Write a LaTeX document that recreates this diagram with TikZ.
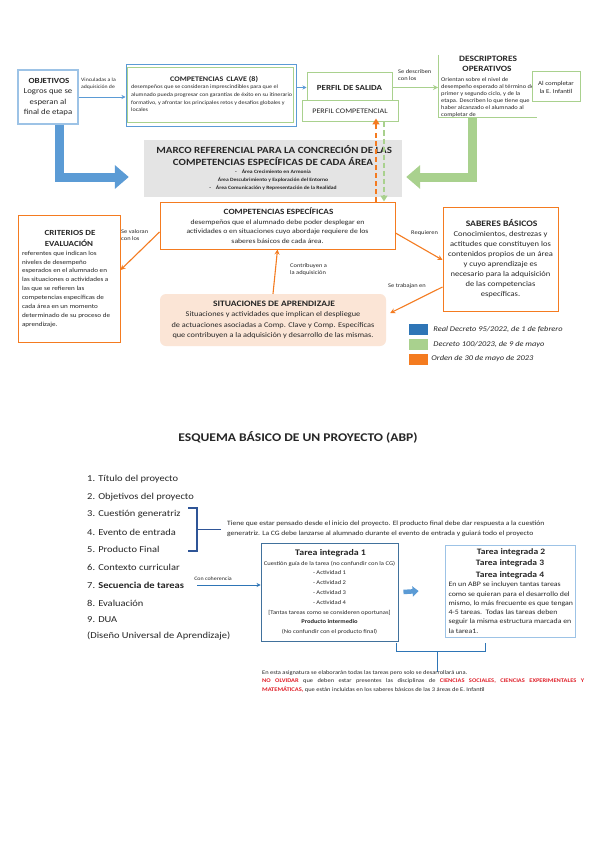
\documentclass[tikz,border=0pt]{standalone}
\usepackage{fontspec}
\setmainfont{Carlito}[FakeStretch=1.15]
\usetikzlibrary{arrows.meta,calc}
\definecolor{ob}{HTML}{F47B20}
\definecolor{gr}{HTML}{A9D18E}
\definecolor{bl}{HTML}{5B9BD5}
\definecolor{lb}{HTML}{9DC3E6}
\definecolor{db}{HTML}{2E75B6}
\definecolor{nb}{HTML}{2F5597}
\definecolor{tb}{HTML}{41719C}
\definecolor{peach}{HTML}{FBE5D6}
\definecolor{grayf}{HTML}{E4E4E4}
\definecolor{redt}{HTML}{E0202A}
\definecolor{txt}{HTML}{262626}
\newcommand\myfs[2]{\fontsize{#1}{#2}\selectfont}
\tikzset{
  lbl/.style={font=\myfs{5.6}{7}, align=flush left, inner sep=0, anchor=north west},
  oarr/.style={draw=ob, line width=1.1pt, -{Stealth[length=5pt,width=5pt]}},
  barr/.style={draw=bl, line width=0.9pt, -{Stealth[length=4pt,width=4pt]}},
  garr/.style={draw=gr, line width=1.1pt, -{Stealth[length=5pt,width=5pt]}},
  obox/.style={draw=ob, line width=1pt, inner sep=1pt},
  gbox/.style={draw=gr, line width=1pt, fill=white, inner sep=1pt},
  item/.style={anchor=west, inner sep=0, font=\myfs{9.1}{10}},
}
\begin{document}
\begin{tikzpicture}[x=1pt,y=-1pt, every node/.append style={text=txt}]
\fill[white] (0,0) rectangle (600,848);
\useasboundingbox (0,0) rectangle (600,848);

% ---------- top section ----------
\node[draw=lb, line width=1.2pt, minimum width=60, minimum height=54, inner sep=1pt, text width=57, align=flush center] (obj) at (48,97)
  {{\bfseries\myfs{7.8}{10} OBJETIVOS\par}{\myfs{7.6}{10.6} Logros que se\\ esperan al\\ final de etapa\par}};
\node[lbl, font=\myfs{5}{6.5}] (lvin) at (81,78) {Vinculadas a la\\ adquisición de};

\node[draw=bl, line width=1pt, minimum width=170, minimum height=62, inner sep=0pt] (cc) at (211,96) {};
\draw[gr, line width=1pt] ($(cc.north west)+(2,3)$) rectangle ($(cc.south east)+(-3,-5)$);
\node[text width=164, align=flush left, inner sep=0, anchor=north west] (cctext) at (131,76)
  {{\centering\bfseries\myfs{7}{9} COMPETENCIAS\, CLAVE (8)\par}
   {\myfs{5.3}{7.6} desempeños que se consideran imprescindibles para que el\\ alumnado pueda progresar con garantías de éxito en su itinerario\\ formativo, y afrontar los principales retos y desafíos globales y\\ locales\par}};
\draw[barr] (obj.east) -- (obj.east -| cc.west);

\node[gbox, minimum width=85, minimum height=29, font=\bfseries\myfs{7.8}{9}] (ps) at (349.5,87.5) {PERFIL DE SALIDA};
\node[gbox, minimum width=96, minimum height=21, font=\myfs{7}{8}] (pc) at (350,111.5) {PERFIL COMPETENCIAL};
\draw[barr] (cc.east |- ps.west) -- (ps.west);

\node[lbl] (ldesc) at (398,69) {Se describen\\ con los};
\coordinate (dtl) at (438,55);
\coordinate (dbr) at (537,118);
\draw[gr, line width=1pt] (dtl) -- (dtl |- dbr) -- (dbr);
\node[text width=100, align=flush center, inner sep=0] (desct) at (487,64)
  {{\bfseries\myfs{8.2}{10} DESCRIPTORES\par}{\bfseries\myfs{8.1}{10.5} OPERATIVOS\par}};
\node[align=flush left, inner sep=0, anchor=north west, font=\myfs{5.6}{7}] (descb) at (441,77)
  {Orientan sobre el nivel de\\ desempeño esperado al término del\\ primer y segundo ciclo, y de la\\ etapa. Describen lo que tiene que\\ haber alcanzado el alumnado al\\ completar de};
\draw[garr] (ps.east) -- (ps.east -| dtl);
\node[gbox, minimum width=48, minimum height=30, align=flush center, font=\myfs{6}{8}] (inf) at (556,87) {Al completar\\ la E. Infantil};

% Marco referencial
\node[fill=grayf, minimum width=258, minimum height=57, inner sep=0pt, align=flush center, text width=256] (marco) at (273,168)
  {{\bfseries\myfs{9.5}{12} MARCO REFERENCIAL PARA LA CONCRECIÓN DE LAS\\ COMPETENCIAS ESPECÍFICAS DE CADA ÁREA\par}
   {\bfseries\myfs{4.9}{8} -\quad Área Crecimiento en Armonía\\ Área Descubrimiento y Exploración del Entorno\\ -\quad Área Comunicación y Representación de la Realidad\par}};

% big arrows
\draw[bl, line width=9pt, line join=miter, -{Triangle[width=23pt,length=14pt]}]
  ([xshift=11pt]obj.south) |- ($(marco.west)+(-15,9)$);
\draw[gr, line width=9pt, line join=miter, -{Triangle[width=23pt,length=14pt]}]
  ($(dbr)+(-65,0)$) |- ($(marco.east)+(4,9)$);

% competencias especificas
\node[obox, minimum width=235, minimum height=47, text width=231, align=flush center] (ce) at (277.5,225.5)
  {{\bfseries\myfs{8}{9.8} COMPETENCIAS ESPECÍFICAS\par}
   {\myfs{6.7}{9.6} desempeños que el alumnado debe poder desplegar en\\ actividades o en situaciones cuyo abordaje requiere de los\\ saberes básicos de cada área.\par}};

% dashed links
\draw[ob, line width=1.5pt, dash pattern=on 5pt off 3pt, -{Triangle[width=7pt,length=6pt]}]
  (ce.north -| 376,0) -- ($(pc.south -| 376,0)+(0,-4)$);
\draw[gr, line width=1.3pt, dash pattern=on 5pt off 3pt, -{Triangle[width=7pt,length=6pt]}]
  (pc.south -| 384,0) -- (ce.north -| 384,0);

% criterios
\node[obox, minimum width=102, minimum height=127, text width=97, align=flush left] (crit) at (69,279)
  {{\centering\bfseries\myfs{7.8}{10.5} CRITERIOS DE\\ EVALUACIÓN\par}
   {\myfs{6.2}{8.9}\hspace*{1.5pt}referentes que indican los\\ \hspace*{1.5pt}niveles de desempeño\\ \hspace*{1.5pt}esperados en el alumnado en\\ \hspace*{1.5pt}las situaciones o actividades a\\ \hspace*{1.5pt}las que se refieren las\\ \hspace*{1.5pt}competencias específicas de\\ \hspace*{1.5pt}cada área en un momento\\ \hspace*{1.5pt}determinado de su proceso de\\ \hspace*{1.5pt}aprendizaje.\par}};

% saberes
\node[obox, minimum width=115, minimum height=104, text width=112, align=flush center] (sab) at (500.5,259)
  {{\bfseries\myfs{8.4}{10.5} SABERES BÁSICOS\par}
   {\myfs{7.4}{10} Conocimientos, destrezas y\\ actitudes que constituyen los\\ contenidos propios de un área\\ y cuyo aprendizaje es\\ necesario para la adquisición\\ de las competencias\\ específicas.\par}};

% situaciones
\node[fill=peach, rounded corners=6pt, minimum width=226, minimum height=52, text width=224, align=flush center, inner sep=0] (sit) at (273,320)
  {{\bfseries\myfs{8.3}{10} SITUACIONES DE APRENDIZAJE\par}
   {\myfs{7.2}{10.4} Situaciones y actividades que implican el despliegue\\ de actuaciones asociadas a Comp. Clave y Comp. Específicas\\ que contribuyen a la adquisición y desarrollo de las mismas.\par}};

\draw[oarr] ($(ce.west)+(0,6.5)$) -- ($(crit.east)+(0,-9)$);
\node[lbl] (lval) at (121,229) {Se valoran\\ con los};
\draw[oarr] ($(ce.east)+(0,7.5)$) -- ($(sab.west)+(0,1)$);
\node[lbl] (lreq) at (411,230) {Requieren};
\draw[oarr] ($(sab.west)+(0,28)$) -- ($(sit.east)+(4,-7)$);
\node[lbl] (ltra) at (388,283) {Se trabajan en};
\draw[oarr] (sit.north) -- (ce.south);
\node[lbl] (lcon) at (290,263) {Contribuyen a\\ la adquisición};

% legend
\node[fill=db, minimum width=19, minimum height=11, inner sep=0] (k1) at (418.5,329.5) {};
\node[fill=gr, minimum width=19, minimum height=11, inner sep=0] (k2) at (418.5,344.5) {};
\node[fill=ob, minimum width=19, minimum height=11, inner sep=0] (k3) at (418.5,359) {};
\node[anchor=west, inner sep=0, font=\itshape\myfs{7.3}{8}] (t1k) at ($(k1.east)+(5,0)$) {Real Decreto 95/2022, de 1 de febrero};
\node[anchor=west, inner sep=0, font=\itshape\myfs{7.3}{8}] (t2k) at ($(k2.east)+(5,0)$) {Decreto 100/2023, de 9 de mayo};
\node[anchor=west, inner sep=0, font=\itshape\myfs{7.3}{8}] (t3k) at ($(k3.east)+(3,0)$) {Orden de 30 de mayo de 2023};

% ---------- bottom section ----------
\node[font=\bfseries\myfs{11.8}{14}, inner sep=0] (title) at (298,437) {ESQUEMA BÁSICO DE UN PROYECTO (ABP)};

\node[item] (l1) at (87,479) {1. Título del proyecto};
\node[item] (l2) at (87,497) {2. Objetivos del proyecto};
\node[item] (l3) at (87,514) {3. Cuestión generatriz};
\node[item] (l4) at (87,532) {4. Evento de entrada};
\node[item] (l5) at (87,549) {5. Producto Final};
\node[item] (l6) at (87,567) {6. Contexto curricular};
\node[item] (l7) at (87,585) {7. \textbf{Secuencia de tareas}};
\node[item] (l8) at (87,603) {8. Evaluación};
\node[item] (l9) at (87,620) {9. DUA};
\node[item] (l10) at (87,636) {(Diseño Universal de Aprendizaje)};

\coordinate (bt) at (197,508);
\coordinate (bb) at (197,551);
\draw[nb, line width=1.2pt] ($(bt)+(-9,0)$) -- (bt) -- (bb) -- ($(bb)+(-9,0)$);
\draw[nb, line width=1pt] ($(bt)!0.5!(bb)$) -- ++(24,0) coordinate (be);
\node[anchor=west, inner sep=0, align=flush left, font=\myfs{6.6}{10}] (tiene) at ($(be)+(6,-1)$)
  {Tiene que estar pensado desde el inicio del proyecto. El producto final debe dar respuesta a la cuestión\\ generatriz. La CG debe lanzarse al alumnado durante el evento de entrada y guiará todo el proyecto};

\node[draw=tb, line width=0.9pt, minimum width=137, minimum height=98, text width=135, align=flush center, inner sep=0] (t1) at (329.5,592)
  {{\bfseries\myfs{8.6}{10} Tarea integrada 1\par}
   {\myfs{5.7}{9.8} Cuestión guía de la tarea (no confundir con la CG)\\ - Actividad 1\\ - Actividad 2\\ - Actividad 3\\ - Actividad 4\\ {[}Tantas tareas como se consideren oportunas{]}\\ \textbf{Producto intermedio}\\ (No confundir con el producto final)\par}};

\draw[db, line width=0.9pt, -{Stealth[length=4pt,width=4pt]}] ($(l7.east)+(13,0)$) -- (t1.west |- l7.east);
\node[font=\myfs{5.2}{6}, inner sep=0] (lcoh) at (213,579) {Con coherencia};

\node[draw=lb, line width=0.9pt, minimum width=130, minimum height=92, text width=127, align=flush left, inner sep=0] (t2) at (510,591)
  {{\centering\bfseries\myfs{8.3}{11.5} Tarea integrada 2\\ Tarea integrada 3\\ Tarea integrada 4\par}
   {\myfs{6.8}{9.3}\hspace*{2pt}En un ABP se incluyen tantas tareas\\ \hspace*{2pt}como se quieran para el desarrollo del\\ \hspace*{2pt}mismo, lo más frecuente es que tengan\\ \hspace*{2pt}4-5 tareas.\, Todas las tareas deben\\ \hspace*{2pt}seguir la misma estructura marcada en\\ \hspace*{2pt}la tarea1.\par}};

\draw[bl, line width=4.5pt, -{Triangle[width=10pt,length=6pt]}] ($(t1.east)+(5,0)$) -- ($(t2.west)+(-26,0)$);

\coordinate (k1l) at (396,643);
\coordinate (k1r) at (485,643);
\draw[db, line width=0.8pt] (k1l) -- ++(0,8) -| (k1r);
\draw[db, line width=0.8pt] ($(k1l)!0.47!(k1r)+(0,8)$) -- ++(0,21) coordinate (kdown);

\node[anchor=north west, inner sep=0, text width=322, align=justify, font=\myfs{5.6}{8.5}] (nota) at (262,670)
  {\hyphenpenalty=10000 En esta asignatura se elaborarán todas las tareas pero solo se desarrollará una.\\
   \textcolor{redt}{\textbf{NO OLVIDAR}} que deben estar presentes las disciplinas de \textcolor{redt}{\textbf{CIENCIAS SOCIALES, CIENCIAS EXPERIMENTALES Y}}\linebreak \textcolor{redt}{\textbf{MATEMÁTICAS,}} que están incluidas en los saberes básicos de las 3 áreas de E. Infantil};
\end{tikzpicture}
\end{document}
